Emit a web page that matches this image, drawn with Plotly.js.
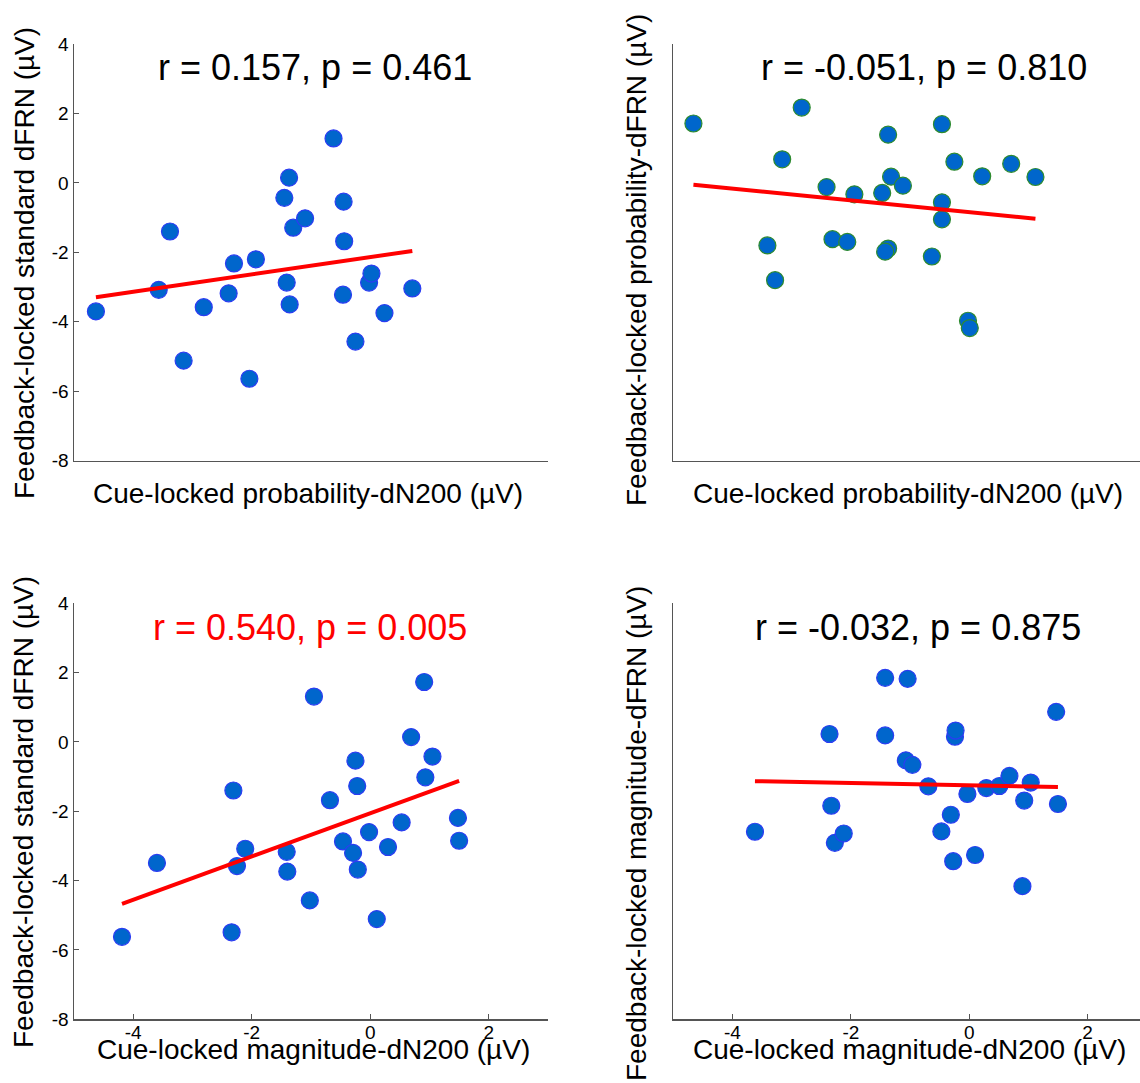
<!DOCTYPE html>
<html>
<head>
<meta charset="utf-8">
<script src="https://cdn.plot.ly/plotly-3.0.1.min.js"></script>
<style>
html,body{margin:0;padding:0;overflow:hidden;background:#fff;}
#chart{width:1150px;height:1083px;}
</style>
</head>
<body>
<div id="chart"></div>
<script>
// ---- Data ----
// Panel 1: probability-dN200 vs standard dFRN
const p1x = [-4.63,-3.57,-3.38,-3.15,-2.81,-2.39,-2.30,-1.93,-2.04,-1.45,-1.37,-1.30,-1.10,-1.41,-1.36,-0.62,-0.45,-0.44,-0.46,-0.25,-0.02,0.02,0.24,0.71];
const p1y = [-3.70,-3.08,-1.40,-5.12,-3.58,-3.18,-2.32,-2.20,-5.64,-0.43,0.15,-1.29,-1.02,-2.87,-3.50,1.28,-0.54,-1.68,-3.22,-4.57,-2.87,-2.61,-3.75,-3.04];
const fit1x = [-4.63, 0.71];
const fit1y = [-3.29, -1.96];

// Panel 2: probability-dN200 vs probability-dFRN
const p2x = [-4.66,-2.83,-3.16,-3.41,-3.28,-2.41,-1.94,-2.31,-2.06,-1.47,-1.37,-1.32,-1.12,-1.37,-1.42,-0.63,-0.46,-0.25,-0.46,-0.46,-0.02,0.01,0.22,0.71,1.12];
const p2y = [1.71,2.17,0.68,-1.80,-2.80,-0.12,-0.33,-1.62,-1.70,-0.29,1.39,0.18,-0.08,-1.89,-1.98,-2.12,1.69,0.61,-0.56,-1.05,-3.97,-4.18,0.19,0.55,0.17];
const fit2x = [-4.66, 1.12];
const fit2y = [-0.05, -1.03];

// Panel 3: magnitude-dN200 vs standard dFRN
const p3x = [-4.19,-3.60,-2.31,-2.34,-2.25,-2.11,-1.41,-1.40,-1.02,-0.95,-0.68,-0.46,-0.29,-0.25,-0.22,-0.21,-0.02,0.11,0.30,0.53,0.69,0.91,0.93,1.05,1.48,1.50];
const p3y = [-5.62,-3.49,-1.40,-5.49,-3.58,-3.08,-3.17,-3.74,-4.57,1.31,-1.68,-2.87,-3.20,-0.54,-1.27,-3.68,-2.60,-5.11,-3.03,-2.32,0.14,1.73,-1.02,-0.42,-2.19,-2.85];
const fit3x = [-4.19, 1.50];
const fit3y = [-4.67, -1.12];

// Panel 4: magnitude-dN200 vs magnitude-dFRN
const p4x = [-3.62,-2.36,-2.33,-2.27,-2.12,-1.42,-1.42,-1.04,-1.07,-0.96,-0.69,-0.47,-0.31,-0.27,-0.24,-0.23,-0.03,0.10,0.29,0.51,0.68,1.04,0.93,0.90,1.47,1.50];
const p4y = [-2.59,0.23,-1.84,-2.91,-2.64,1.85,0.19,1.82,-0.53,-0.66,-1.28,-2.58,-2.10,-3.44,0.15,0.33,-1.50,-3.26,-1.33,-1.27,-0.98,-1.17,-1.69,-4.16,0.87,-1.79];
const fit4x = [-3.62, 1.50];
const fit4y = [-1.13, -1.30];

const statTexts = ["r = 0.157, p = 0.461", "r = -0.051, p = 0.810", "r = 0.540, p = 0.005", "r = -0.032, p = 0.875"];
const xTitles = ["Cue-locked probability-dN200 (µV)", "Cue-locked probability-dN200 (µV)", "Cue-locked magnitude-dN200 (µV)", "Cue-locked magnitude-dN200 (µV)"];
const yTitles = ["Feedback-locked standard dFRN (µV)", "Feedback-locked probability-dFRN (µV)", "Feedback-locked standard dFRN (µV)", "Feedback-locked magnitude-dFRN (µV)"];
const yTickVals = [4, 2, 0, -2, -4, -6, -8];
const yTickText = ["4", "2", "0", "-2", "-4", "-6", "-8"];
const xTickVals = [-4, -2, 0, 2];
const xTickText = ["-4", "-2", "0", "2"];

// ---- Layout geometry ----
const W = 1150, H = 1083;
const px = v => v / W;
const py = v => 1 - v / H;
const FONT = "Liberation Sans, Arial, Helvetica, sans-serif";

const fill = "#0066cc";
const edges = ["#2b3cf2", "#2e8b2e", "#2b3cf2", "#2b3cf2"];
const pts = [[p1x,p1y],[p2x,p2y],[p3x,p3y],[p4x,p4y]];
const fits = [[fit1x,fit1y],[fit2x,fit2y],[fit3x,fit3y],[fit4x,fit4y]];

const traces = [];
for (let i = 0; i < 4; i++) {
  const ax = i === 0 ? "" : String(i + 1);
  traces.push({
    type: "scatter", mode: "markers", x: pts[i][0], y: pts[i][1],
    xaxis: "x" + ax, yaxis: "y" + ax,
    marker: {size: 17, color: fill, line: {color: edges[i], width: 1.2}},
    hoverinfo: "skip", cliponaxis: false
  });
  traces.push({
    type: "scatter", mode: "lines", x: fits[i][0], y: fits[i][1],
    xaxis: "x" + ax, yaxis: "y" + ax,
    line: {color: "#ff0000", width: 4}, hoverinfo: "skip"
  });
}

const xDom = [[px(74), px(548)], [px(673.3), px(1146.7)]];
const yDom = [[py(460.7), py(44)], [py(1019.3), py(603.3)]];

function xAxis(col, row, anchor) {
  const showT = row === 1;
  return {
    domain: xDom[col], range: [-5, 3], anchor: anchor,
    showline: true, linecolor: "#555", linewidth: 1.5,
    showgrid: false, zeroline: false,
    ticks: showT ? "inside" : "", ticklen: 5, tickcolor: "#555", tickwidth: 1,
    tickvals: xTickVals, ticktext: xTickText, showticklabels: showT,
    ticklabelstandoff: -5,
    tickfont: {family: FONT, size: 19, color: "#000"}, fixedrange: true
  };
}
function yAxis(col, row, anchor) {
  const showT = col === 0;
  return {
    domain: yDom[row], range: [-8, 4], anchor: anchor,
    showline: true, linecolor: "#555", linewidth: 1.5,
    showgrid: false, zeroline: false,
    ticks: showT ? "inside" : "", ticklen: 5, tickcolor: "#555", tickwidth: 1,
    tickvals: yTickVals, ticktext: yTickText, showticklabels: showT,
    tickfont: {family: FONT, size: 19, color: "#000"}, fixedrange: true
  };
}

const layout = {
  width: W, height: H,
  margin: {l: 0, r: 0, t: 0, b: 0, pad: 0},
  paper_bgcolor: "#fff", plot_bgcolor: "#fff",
  showlegend: false,
  font: {family: FONT, color: "#000"},
  xaxis: xAxis(0, 0, "y"), yaxis: yAxis(0, 0, "x"),
  xaxis2: xAxis(1, 0, "y2"), yaxis2: yAxis(1, 0, "x2"),
  xaxis3: xAxis(0, 1, "y3"), yaxis3: yAxis(0, 1, "x3"),
  xaxis4: xAxis(1, 1, "y4"), yaxis4: yAxis(1, 1, "x4"),
  annotations: []
};

const statX = [315, 924, 310, 918];
const statY = [67.5, 67.5, 627, 627];
const statColor = ["#000", "#000", "#ff0000", "#000"];
const xtX = [308, 908, 313, 909];
const xtY = [493, 493, 1049, 1049];
const ytX = [24, 636, 24, 636];
const ytY = [263, 260, 812, 834];
for (let i = 0; i < 4; i++) {
  layout.annotations.push({
    xref: "paper", yref: "paper", x: px(statX[i]), y: py(statY[i]),
    xanchor: "center", yanchor: "middle", showarrow: false,
    text: statTexts[i], font: {family: FONT, size: 36, color: statColor[i]}
  });
  layout.annotations.push({
    xref: "paper", yref: "paper", x: px(xtX[i]), y: py(xtY[i]),
    xanchor: "center", yanchor: "middle", showarrow: false,
    text: xTitles[i], font: {family: FONT, size: 28, color: "#000"}
  });
  layout.annotations.push({
    xref: "paper", yref: "paper", x: px(ytX[i]), y: py(ytY[i]),
    xanchor: "center", yanchor: "middle", showarrow: false, textangle: -90,
    text: yTitles[i], font: {family: FONT, size: 28, color: "#000"}
  });
}

Plotly.newPlot("chart", traces, layout, {staticPlot: true, displayModeBar: false});
</script>
</body>
</html>
